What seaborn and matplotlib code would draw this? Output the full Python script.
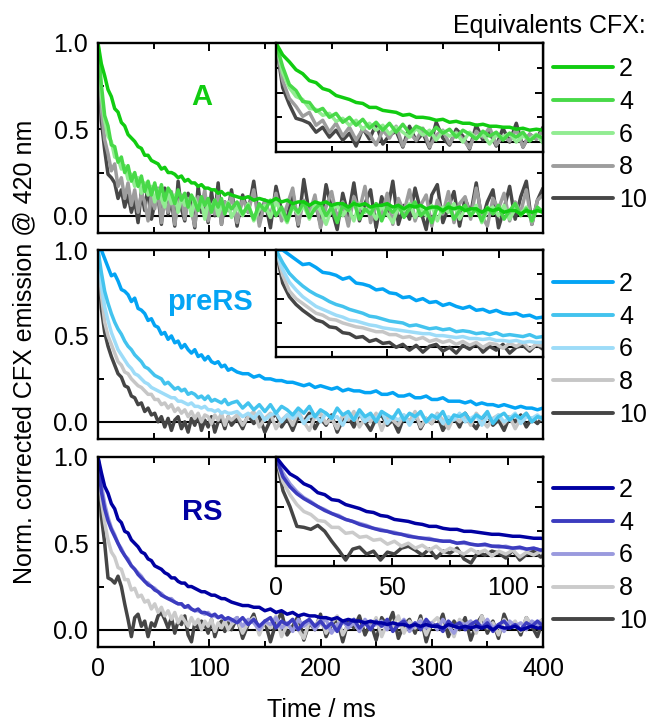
import numpy as np
import pandas as pd
import matplotlib
matplotlib.use("Agg")
import matplotlib.pyplot as plt
from matplotlib.lines import Line2D
from matplotlib.ticker import MultipleLocator, FixedLocator, NullFormatter
import seaborn as sns

# ---------------------------------------------------------------------------
# Data: normalised CFX emission at 420 nm vs. time
# time grid: 3 ms steps up to 120 ms, 5 ms steps up to 400 ms
# ---------------------------------------------------------------------------
time_ms = np.concatenate([np.arange(0, 121, 3), np.arange(125, 401, 5)])

equivalents = [2, 4, 6, 8, 10]
panel_names = ["A", "preRS", "RS"]

# ---- A ----
a_2 = [1.00, 0.88, 0.81, 0.73, 0.69, 0.62, 0.60, 0.54, 0.52, 0.47,
       0.45, 0.43, 0.40, 0.39, 0.35, 0.35, 0.32, 0.31, 0.30, 0.27,
       0.28, 0.25, 0.25, 0.24, 0.22, 0.23, 0.20, 0.21, 0.19, 0.19,
       0.17, 0.18, 0.16, 0.16, 0.15, 0.15, 0.13, 0.14, 0.12, 0.13,
       0.12,
       0.11, 0.10, 0.11, 0.09, 0.10, 0.09, 0.08, 0.10, 0.08, 0.09,
       0.07, 0.08, 0.08, 0.06, 0.08, 0.07, 0.08, 0.06, 0.07, 0.07,
       0.05, 0.07, 0.06, 0.07, 0.05, 0.06, 0.06, 0.07, 0.05, 0.06,
       0.04, 0.06, 0.05, 0.06, 0.04, 0.05, 0.05, 0.03, 0.05, 0.04,
       0.05, 0.03, 0.04, 0.04, 0.02, 0.04, 0.03, 0.04, 0.02, 0.03,
       0.03, 0.01, 0.03, 0.02, 0.03, 0.02]
a_4 = [1.00, 0.76, 0.58, 0.52, 0.41, 0.40, 0.31, 0.34, 0.25, 0.29,
       0.20, 0.25, 0.17, 0.23, 0.14, 0.20, 0.12, 0.19, 0.10, 0.18,
       0.09, 0.16, 0.13, 0.07, 0.15, 0.09, 0.13, 0.05, 0.12, 0.08,
       0.03, 0.11, 0.06, 0.10, 0.02, 0.09, 0.05, 0.10, 0.01, 0.07,
       0.04,
       0.08, 0.01, 0.06, -0.02, 0.07, 0.03, 0.09, 0.00, 0.05, -0.03,
       0.06, 0.02, 0.08, -0.01, 0.04, 0.07, 0.00, 0.05, -0.04, 0.06,
       0.03, 0.08, -0.02, 0.04, 0.01, 0.07, -0.03, 0.05, 0.02, 0.06,
       -0.01, 0.04, 0.08, 0.00, 0.03, -0.04, 0.05, 0.02, 0.07, -0.02,
       0.03, 0.06, 0.00, 0.04, -0.03, 0.05, 0.01, 0.06, -0.02, 0.03,
       0.07, 0.00, 0.04, -0.03, 0.05, 0.02]
a_6 = [1.00, 0.70, 0.55, 0.46, 0.43, 0.34, 0.33, 0.27, 0.29, 0.21,
       0.24, 0.17, 0.22, 0.13, 0.19, 0.12, 0.17, 0.08, 0.15, 0.10,
       0.05, 0.14, 0.07, 0.12, 0.02, 0.11, 0.06, 0.09, 0.00, 0.10,
       0.04, 0.08, -0.02, 0.07, 0.05, 0.09, 0.00, 0.06, 0.03, 0.08,
       -0.01,
       0.05, 0.00, 0.07, -0.03, 0.04, 0.06, -0.01, 0.08, 0.02, -0.04,
       0.05, 0.01, 0.06, -0.02, 0.07, 0.03, -0.05, 0.04, 0.06, 0.00,
       0.05, -0.03, 0.07, 0.02, 0.04, -0.02, 0.06, 0.01, -0.04, 0.05,
       0.03, 0.07, -0.01, 0.04, 0.00, 0.06, -0.03, 0.05, 0.02, 0.07,
       -0.02, 0.04, 0.01, 0.06, -0.04, 0.03, 0.05, 0.00, 0.06, -0.02,
       0.04, 0.01, 0.05, -0.03, 0.04, 0.03]
a_8 = [1.00, 0.62, 0.44, 0.36, 0.26, 0.30, 0.17, 0.22, 0.10, 0.19,
       0.06, 0.15, 0.02, 0.13, 0.08, -0.03, 0.12, 0.04, 0.16, -0.04,
       0.09, 0.02, 0.14, -0.05, 0.07, 0.12, -0.02, 0.10, 0.03, -0.06,
       0.11, 0.05, 0.15, -0.03, 0.06, 0.01, 0.13, -0.05, 0.08, 0.03,
       0.12,
       -0.04, 0.10, 0.02, 0.15, -0.06, 0.08, 0.00, 0.13, -0.03, 0.06,
       0.16, -0.05, 0.09, 0.01, 0.12, -0.07, 0.05, 0.14, -0.02, 0.08,
       -0.06, 0.11, 0.03, 0.17, -0.04, 0.07, 0.00, 0.13, -0.05, 0.10,
       0.02, 0.15, -0.03, 0.06, 0.12, -0.06, 0.09, 0.01, 0.14, -0.04,
       0.07, 0.11, -0.02, 0.16, 0.00, -0.06, 0.10, 0.04, 0.13, -0.03,
       0.08, 0.02, 0.15, -0.05, 0.09, 0.12]
a_10 = [1.00, 0.55, 0.38, 0.24, 0.22, 0.19, 0.10, 0.15, 0.05, 0.12,
        0.02, 0.09, -0.04, 0.14, 0.03, 0.18, -0.02, 0.07, 0.11, -0.05,
        0.16, 0.01, 0.09, -0.06, 0.20, 0.04, -0.03, 0.13, 0.06, -0.07,
        0.17, 0.02, 0.10, -0.04, 0.14, 0.00, 0.19, -0.05, 0.08, 0.03,
        0.15,
        -0.06, 0.12, 0.02, 0.20, -0.04, 0.09, -0.07, 0.17, 0.03, -0.02,
        0.14, -0.06, 0.21, 0.01, 0.08, -0.05, 0.18, 0.04, -0.08, 0.13,
        0.00, 0.19, -0.03, 0.07, 0.15, -0.07, 0.11, 0.02, 0.20, -0.05,
        0.06, -0.02, 0.16, 0.03, -0.08, 0.12, 0.18, -0.04, 0.05, 0.14,
        -0.06, 0.10, 0.01, 0.19, -0.03, 0.08, 0.15, -0.07, 0.04, 0.17,
        -0.02, 0.11, 0.20, -0.05, 0.09, 0.16]

# ---- preRS ----
pre_2 = [1.00, 1.00, 0.95, 0.90, 0.85, 0.86, 0.82, 0.77, 0.76, 0.74,
         0.70, 0.72, 0.66, 0.65, 0.63, 0.59, 0.60, 0.56, 0.55, 0.51,
         0.52, 0.48, 0.50, 0.46, 0.47, 0.43, 0.45, 0.42, 0.40, 0.42,
         0.38, 0.39, 0.36, 0.38, 0.35, 0.34, 0.35, 0.32, 0.33, 0.30,
         0.31,
         0.29, 0.28, 0.28, 0.26, 0.27, 0.25, 0.25, 0.24, 0.24, 0.23,
         0.23, 0.22, 0.21, 0.22, 0.20, 0.21, 0.20, 0.19, 0.20, 0.18,
         0.19, 0.18, 0.18, 0.17, 0.17, 0.18, 0.16, 0.16, 0.17, 0.15,
         0.15, 0.16, 0.14, 0.14, 0.15, 0.13, 0.13, 0.14, 0.12, 0.12,
         0.12, 0.11, 0.12, 0.10, 0.11, 0.10, 0.10, 0.09, 0.10, 0.09,
         0.08, 0.09, 0.08, 0.08, 0.07, 0.08]
pre_4 = [1.00, 0.87, 0.76, 0.69, 0.63, 0.58, 0.54, 0.51, 0.47, 0.44,
         0.42, 0.39, 0.37, 0.35, 0.32, 0.31, 0.29, 0.27, 0.26, 0.25,
         0.22, 0.23, 0.21, 0.19, 0.20, 0.18, 0.19, 0.16, 0.17, 0.16,
         0.14, 0.15, 0.13, 0.15, 0.12, 0.13, 0.12, 0.11, 0.13, 0.10,
         0.11,
         0.12, 0.08, 0.11, 0.07, 0.10, 0.06, 0.10, 0.05, 0.09, 0.07,
         0.04, 0.08, 0.05, 0.09, 0.03, 0.07, 0.05, 0.02, 0.08, 0.04,
         0.06, 0.01, 0.07, 0.03, 0.05, 0.00, 0.06, 0.04, 0.02, 0.07,
         0.01, 0.05, 0.03, 0.06, 0.00, 0.04, 0.02, 0.06, -0.01, 0.04,
         0.03, 0.05, 0.00, 0.04, 0.02, 0.06, -0.01, 0.03, 0.05, 0.01,
         0.04, 0.02, 0.05, 0.00, 0.03, 0.02]
pre_6 = [1.00, 0.80, 0.67, 0.59, 0.52, 0.47, 0.42, 0.39, 0.36, 0.33,
         0.31, 0.28, 0.27, 0.25, 0.23, 0.22, 0.20, 0.19, 0.18, 0.17,
         0.16, 0.15, 0.14, 0.14, 0.12, 0.12, 0.11, 0.10, 0.11, 0.09,
         0.09, 0.08, 0.09, 0.07, 0.07, 0.06, 0.07, 0.05, 0.06, 0.05,
         0.05,
         0.06, 0.03, 0.05, 0.02, 0.06, 0.01, 0.04, 0.05, 0.00, 0.04,
         0.02, 0.05, -0.01, 0.03, 0.04, 0.00, 0.05, 0.02, 0.03, -0.02,
         0.04, 0.01, 0.05, 0.00, 0.03, 0.02, 0.06, -0.01, 0.03, 0.01,
         0.04, -0.02, 0.03, 0.05, 0.00, 0.02, 0.04, -0.01, 0.03, 0.01,
         0.05, 0.00, 0.02, 0.04, -0.02, 0.03, 0.01, 0.04, 0.00, 0.02,
         0.05, -0.01, 0.03, 0.02, 0.04, 0.01]
pre_8 = [1.00, 0.74, 0.58, 0.50, 0.45, 0.40, 0.35, 0.33, 0.29, 0.28,
         0.25, 0.23, 0.21, 0.20, 0.18, 0.16, 0.16, 0.13, 0.13, 0.10,
         0.11, 0.08, 0.10, 0.06, 0.08, 0.05, 0.07, 0.03, 0.06, 0.02,
         0.05, 0.00, 0.04, 0.03, -0.01, 0.04, 0.01, 0.05, -0.02, 0.03,
         0.01,
         0.04, -0.02, 0.03, 0.06, -0.03, 0.02, 0.05, -0.04, 0.01, 0.04,
         -0.02, 0.06, 0.00, -0.05, 0.03, 0.05, -0.01, 0.02, -0.04, 0.04,
         0.01, 0.06, -0.03, 0.02, 0.00, 0.05, -0.05, 0.03, 0.01, -0.02,
         0.04, 0.00, 0.06, -0.03, 0.02, -0.01, 0.05, 0.01, -0.04, 0.03,
         0.00, 0.04, -0.02, 0.05, 0.01, -0.03, 0.02, 0.04, -0.01, 0.03,
         -0.04, 0.02, 0.05, 0.00, 0.03, 0.01]
pre_10 = [1.00, 0.66, 0.52, 0.44, 0.38, 0.33, 0.28, 0.26, 0.21, 0.20,
          0.15, 0.14, 0.10, 0.11, 0.06, 0.08, 0.04, 0.05, 0.00, 0.03,
          -0.03, 0.02, -0.05, 0.01, 0.03, -0.04, 0.00, -0.06, 0.02, -0.02,
          0.04, -0.05, 0.01, -0.03, 0.03, -0.06, 0.00, 0.02, -0.04, 0.03,
          -0.02,
          0.02, -0.04, 0.04, -0.01, 0.03, -0.06, 0.01, 0.05, -0.03, 0.02,
          -0.05, 0.03, 0.00, 0.05, -0.04, 0.02, -0.02, 0.04, -0.06, 0.01,
          0.03, -0.03, 0.05, 0.00, -0.05, 0.02, 0.04, -0.02, 0.01, -0.06,
          0.03, 0.00, 0.05, -0.04, 0.02, -0.01, 0.04, -0.05, 0.01, 0.03,
          -0.03, 0.05, 0.00, -0.04, 0.02, 0.04, -0.02, 0.01, -0.05, 0.03,
          0.00, 0.04, -0.03, 0.02, -0.01, 0.03]

# ---- RS ----
rs_2 = [1.00, 0.91, 0.83, 0.79, 0.73, 0.70, 0.64, 0.62, 0.57, 0.56,
        0.52, 0.50, 0.48, 0.45, 0.44, 0.41, 0.40, 0.37, 0.36, 0.35,
        0.33, 0.32, 0.30, 0.30, 0.28, 0.27, 0.27, 0.25, 0.25, 0.24,
        0.23, 0.22, 0.22, 0.21, 0.20, 0.20, 0.19, 0.18, 0.18, 0.17,
        0.16,
        0.15, 0.14, 0.14, 0.13, 0.13, 0.11, 0.12, 0.10, 0.11, 0.09,
        0.10, 0.08, 0.09, 0.08, 0.08, 0.07, 0.07, 0.06, 0.07, 0.05,
        0.06, 0.05, 0.05, 0.04, 0.05, 0.04, 0.04, 0.03, 0.04, 0.03,
        0.03, 0.02, 0.03, 0.02, 0.03, 0.02, 0.02, 0.01, 0.03, 0.02,
        0.01, 0.02, 0.01, 0.02, 0.01, 0.02, 0.00, 0.02, 0.01, 0.01,
        0.02, 0.00, 0.01, 0.02, 0.01, 0.01]
rs_4 = [1.00, 0.80, 0.70, 0.63, 0.58, 0.54, 0.50, 0.46, 0.43, 0.40,
        0.37, 0.35, 0.32, 0.30, 0.28, 0.26, 0.25, 0.23, 0.22, 0.20,
        0.19, 0.18, 0.17, 0.16, 0.15, 0.15, 0.13, 0.14, 0.12, 0.11,
        0.12, 0.10, 0.10, 0.09, 0.08, 0.09, 0.07, 0.08, 0.06, 0.07,
        0.06,
        0.04, 0.07, 0.03, 0.06, 0.02, 0.05, 0.07, 0.01, 0.05, 0.03,
        0.06, 0.00, 0.04, 0.06, 0.02, 0.05, 0.01, 0.04, -0.01, 0.05,
        0.03, 0.06, 0.01, 0.04, 0.00, 0.05, 0.02, 0.06, -0.01, 0.03,
        0.05, 0.01, 0.04, 0.00, 0.06, 0.02, 0.03, -0.01, 0.05, 0.02,
        0.04, 0.00, 0.03, 0.05, 0.01, 0.04, -0.01, 0.03, 0.05, 0.01,
        0.03, 0.00, 0.04, 0.02, 0.05, 0.02]
rs_6 = [1.00, 0.84, 0.73, 0.65, 0.59, 0.55, 0.50, 0.47, 0.43, 0.41,
        0.37, 0.35, 0.33, 0.31, 0.28, 0.27, 0.25, 0.24, 0.22, 0.21,
        0.19, 0.18, 0.18, 0.16, 0.15, 0.15, 0.13, 0.13, 0.12, 0.11,
        0.11, 0.10, 0.09, 0.10, 0.08, 0.08, 0.07, 0.08, 0.06, 0.06,
        0.05,
        0.07, 0.02, 0.06, 0.04, 0.00, 0.05, 0.03, 0.07, 0.01, 0.04,
        -0.01, 0.06, 0.02, 0.05, 0.00, 0.04, 0.06, -0.02, 0.03, 0.05,
        0.01, 0.04, -0.01, 0.06, 0.02, 0.03, 0.05, 0.00, 0.04, 0.02,
        0.06, -0.01, 0.03, 0.05, 0.01, 0.04, 0.00, 0.06, 0.02, -0.02,
        0.04, 0.03, 0.05, 0.00, 0.02, 0.06, 0.01, 0.03, -0.01, 0.05,
        0.02, 0.04, 0.00, 0.05, 0.03, 0.04]
rs_8 = [1.00, 0.75, 0.62, 0.52, 0.45, 0.42, 0.36, 0.35, 0.29, 0.29,
        0.23, 0.24, 0.19, 0.20, 0.16, 0.17, 0.12, 0.15, 0.10, 0.13,
        0.08, 0.11, 0.06, 0.10, 0.04, 0.08, 0.05, 0.02, 0.07, 0.03,
        0.06, 0.00, 0.05, 0.02, 0.06, -0.01, 0.04, 0.01, 0.05, 0.00,
        0.03,
        0.06, -0.02, 0.04, 0.07, -0.03, 0.05, 0.01, 0.08, -0.04, 0.03,
        0.06, 0.00, -0.05, 0.05, 0.02, 0.07, -0.02, 0.04, 0.08, -0.03,
        0.03, 0.06, -0.01, 0.05, 0.00, 0.07, -0.04, 0.04, 0.02, 0.08,
        -0.02, 0.05, 0.01, 0.06, -0.03, 0.04, 0.07, 0.00, 0.03, -0.04,
        0.06, 0.02, 0.05, -0.02, 0.08, 0.01, 0.04, -0.03, 0.06, 0.02,
        0.05, -0.01, 0.07, 0.03, 0.04, 0.06]
rs_10 = [1.00, 0.66, 0.50, 0.30, 0.29, 0.27, 0.31, 0.25, 0.15, 0.06,
         -0.04, 0.07, 0.09, 0.02, 0.05, -0.04, 0.04, 0.02, 0.08, 0.10,
         0.06, 0.01, 0.07, -0.02, 0.05, 0.03, 0.08, -0.03, -0.07, 0.04,
         0.01, 0.05, 0.03, -0.02, 0.06, -0.04, 0.02, 0.05, -0.01, 0.04,
         0.00,
         0.07, -0.05, 0.03, 0.09, -0.02, 0.05, -0.07, 0.04, 0.10, -0.03,
         0.02, 0.08, -0.06, 0.04, 0.00, 0.09, -0.04, 0.03, 0.06, -0.07,
         0.05, 0.01, 0.08, -0.03, 0.04, -0.06, 0.07, 0.02, 0.10, -0.05,
         0.03, 0.06, -0.02, 0.08, -0.07, 0.04, 0.01, 0.09, -0.04, 0.05,
         0.00, 0.07, -0.06, 0.03, 0.08, -0.02, 0.05, -0.05, 0.09, 0.01,
         0.04, -0.03, 0.07, 0.02, -0.04, 0.06]

colors_a = ["#11cc11", "#48d948", "#92ec92", "#9d9d9d", "#474747"]
colors_pre = ["#04a4f4", "#43c3ee", "#9ddcf8", "#c6c6c6", "#454545"]
colors_rs = ["#0000a2", "#3c3cbf", "#9a9ade", "#cbcbcb", "#454545"]
label_colors = ["#11cc11", "#04a4f4", "#0000a2"]

panel_series = [[a_2, a_4, a_6, a_8, a_10],
                [pre_2, pre_4, pre_6, pre_8, pre_10],
                [rs_2, rs_4, rs_6, rs_8, rs_10]]
panel_colors = [colors_a, colors_pre, colors_rs]

# ---------------------------------------------------------------------------
# Style
# ---------------------------------------------------------------------------
sns.set_style("ticks")
plt.rcParams["font.family"] = ["Liberation Sans", "DejaVu Sans"]
FS = 18
plt.rcParams["font.size"] = FS
plt.rcParams["axes.linewidth"] = 1.6
plt.rcParams["text.color"] = "black"
plt.rcParams["axes.labelcolor"] = "black"
plt.rcParams["xtick.color"] = "black"
plt.rcParams["ytick.color"] = "black"

W, H = 651, 722
fig = plt.figure(figsize=(W / 100, H / 100), dpi=100)


def rect(left, top, right, bottom):
    return [left / W, 1 - bottom / H, (right - left) / W, (bottom - top) / H]


main_boxes = [(98, 43, 543, 233), (98, 250, 543, 439), (98, 457, 543, 647)]
inset_boxes = [(276, 43, 543, 152), (276, 250, 543, 357), (276, 457, 543, 566)]
inset_xmax = [120, 120, 115]
label_pos = [(202, 97), (210, 302), (202, 512)]
legend_top = [57, 272, 478]


def style_axes(ax):
    for sp in ax.spines.values():
        sp.set_linewidth(1.7)
        sp.set_color("black")
    ax.tick_params(which="both", direction="in", top=True, right=True,
                   width=1.4, colors="black", labelsize=FS, pad=7)
    ax.tick_params(which="major", length=5.5)
    ax.tick_params(which="minor", length=4.5)


def draw_curves(ax, df, palette):
    ax.axhline(0, color="black", lw=1.5, zorder=1)
    sns.lineplot(data=df, x="time", y="signal", hue="eq",
                 hue_order=equivalents[::-1], palette=palette,
                 estimator=None, errorbar=None, sort=False,
                 linewidth=2.5, legend=False, ax=ax, zorder=2)
    ax.set_xlabel("")
    ax.set_ylabel("")


for i, name in enumerate(panel_names):
    series = panel_series[i]
    palette = dict(zip(equivalents, panel_colors[i]))
    df = pd.concat([pd.DataFrame({"time": time_ms, "signal": np.asarray(y),
                                  "eq": eq})
                    for eq, y in zip(equivalents, series)],
                   ignore_index=True)

    # main panel
    ax = fig.add_axes(rect(*main_boxes[i]))
    draw_curves(ax, df, palette)
    ax.set_xlim(0, 400)
    ax.set_ylim(-0.1, 1.0)
    ax.xaxis.set_major_locator(MultipleLocator(100))
    ax.xaxis.set_minor_locator(MultipleLocator(50))
    ax.yaxis.set_major_locator(FixedLocator([0.0, 0.5, 1.0]))
    ax.yaxis.set_minor_locator(FixedLocator([0.25, 0.75]))
    ax.set_yticklabels(["0.0", "0.5", "1.0"])
    style_axes(ax)
    if i < 2:
        ax.xaxis.set_major_formatter(NullFormatter())
    ax.text(label_pos[i][0] / W, 1 - label_pos[i][1] / H, name,
            transform=fig.transFigure, ha="center", va="center",
            fontsize=21, fontweight="bold", color=label_colors[i])

    # legend at the right of the panel
    handles = [Line2D([], [], color=c, lw=2.8) for c in panel_colors[i]]
    ax.legend(handles, [str(e) for e in equivalents], loc="upper left",
              bbox_to_anchor=(553 / W, 1 - legend_top[i] / H),
              bbox_transform=fig.transFigure, frameon=False,
              borderpad=0, borderaxespad=0, handlelength=2.4,
              handletextpad=0.24, labelspacing=0.35, fontsize=FS,
              labelcolor="black")

    # zoomed inset of the first 120 ms
    ins = fig.add_axes(rect(*inset_boxes[i]))
    ins.set_facecolor("white")
    draw_curves(ins, df, palette)
    ins.set_xlim(0, inset_xmax[i])
    ins.set_ylim(-0.1, 1.0)
    ins.xaxis.set_major_locator(MultipleLocator(50))
    ins.xaxis.set_minor_locator(MultipleLocator(25))
    ins.yaxis.set_major_locator(FixedLocator([0.0, 0.5, 1.0]))
    ins.yaxis.set_minor_locator(FixedLocator([0.25, 0.75]))
    ins.yaxis.set_major_formatter(NullFormatter())
    style_axes(ins)
    if i < 2:
        ins.xaxis.set_major_formatter(NullFormatter())

fig.text(24 / W, 1 - 352 / H, "Norm. corrected CFX emission @ 420 nm",
         rotation=90, ha="center", va="center", fontsize=FS)
fig.text(321 / W, 1 - 710 / H, "Time / ms", ha="center", va="center",
         fontsize=FS)
fig.text(646 / W, 1 - 26 / H, "Equivalents CFX:", ha="right", va="center",
         fontsize=FS)

fig.savefig("out.png", dpi=100)
